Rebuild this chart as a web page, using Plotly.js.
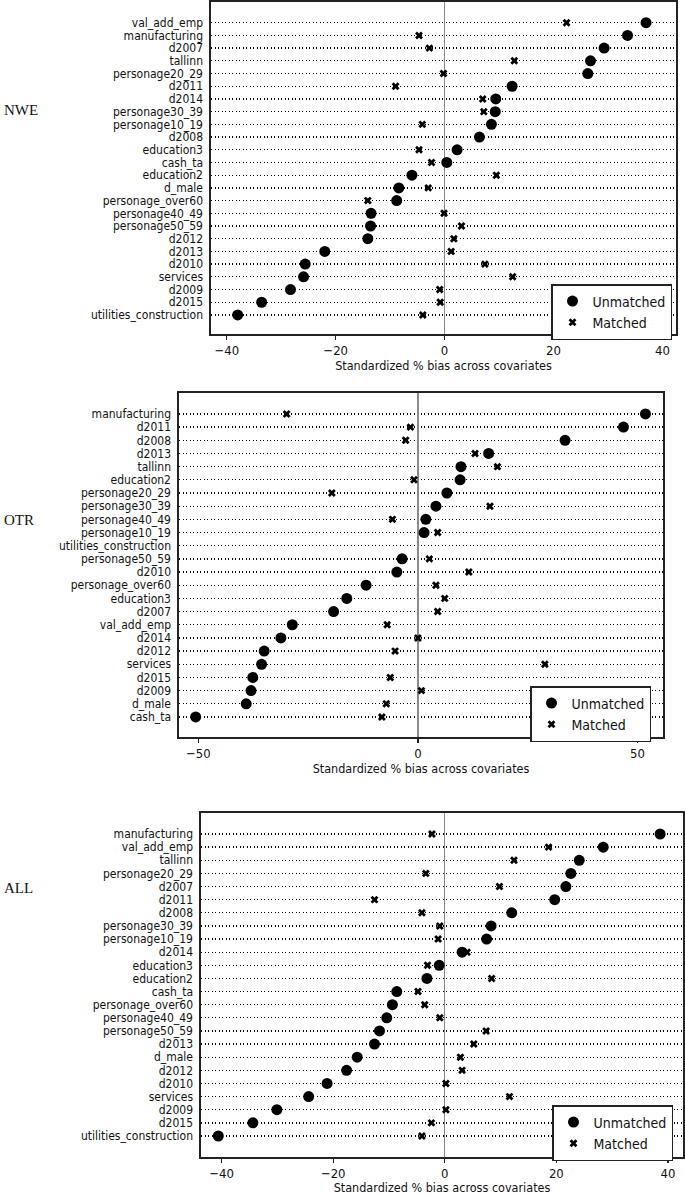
<!DOCTYPE html>
<html>
<head>
<meta charset="utf-8">
<script src="https://cdn.plot.ly/plotly-3.0.1.min.js"></script>
<style>html,body{margin:0;padding:0;background:#fff;}#chart{width:685px;height:1195px;}</style>
</head>
<body>
<div id="chart"></div>
<script>
// ---- NWE panel (top to bottom) ----
const nweVars = ["val_add_emp","manufacturing","d2007","tallinn","personage20_29","d2011","d2014","personage30_39","personage10_19","d2008","education3","cash_ta","education2","d_male","personage_over60","personage40_49","personage50_59","d2012","d2013","d2010","services","d2009","d2015","utilities_construction"];
const nweUnmatched = [37.0,33.6,29.3,26.8,26.3,12.4,9.4,9.3,8.6,6.4,2.3,0.4,-6.0,-8.4,-8.8,-13.5,-13.6,-14.1,-22.0,-25.6,-25.9,-28.3,-33.6,-38.0];
const nweMatched   = [22.4,-4.7,-2.8,12.8,-0.2,-9.0,7.0,7.2,-4.1,6.3,-4.7,-2.4,9.5,-3.0,-14.1,-0.1,3.1,1.7,1.2,7.4,12.5,-0.9,-0.8,-4.0];

// ---- OTR panel ----
const otrVars = ["manufacturing","d2011","d2008","d2013","tallinn","education2","personage20_29","personage30_39","personage40_49","personage10_19","utilities_construction","personage50_59","d2010","personage_over60","education3","d2007","val_add_emp","d2014","d2012","services","d2015","d2009","d_male","cash_ta"];
const otrUnmatched = [51.8,46.8,33.5,16.1,9.8,9.6,6.6,4.1,1.8,1.4,null,-3.6,-4.8,-11.8,-16.2,-19.2,-28.6,-31.2,-35.0,-35.6,-37.6,-38.0,-39.1,-50.6];
const otrMatched   = [-29.9,-1.7,-2.8,13.0,18.1,-0.9,-19.6,16.4,-5.8,4.5,null,2.6,11.6,4.1,6.1,4.5,-7.0,0.0,-5.2,28.9,-6.3,0.8,-7.2,-8.2];

// ---- ALL panel ----
const allVars = ["manufacturing","val_add_emp","tallinn","personage20_29","d2007","d2011","d2008","personage30_39","personage10_19","d2014","education3","education2","cash_ta","personage_over60","personage40_49","personage50_59","d2013","d_male","d2012","d2010","services","d2009","d2015","utilities_construction"];
const allUnmatched = [38.6,28.4,24.1,22.6,21.7,19.7,12.0,8.3,7.5,3.1,-1.0,-3.2,-8.6,-9.4,-10.4,-11.7,-12.6,-15.7,-17.6,-21.1,-24.4,-30.1,-34.4,-40.6];
const allMatched   = [-2.3,18.6,12.4,-3.4,9.8,-12.6,-4.1,-0.9,-1.2,4.0,-3.1,8.4,-4.8,-3.6,-0.9,7.4,5.2,2.8,3.1,0.2,11.6,0.2,-2.4,-4.1];

const panelNames = ["NWE","OTR","ALL"];
const xTitle = "Standardized % bias across covariates";
const seriesNames = ["Unmatched","Matched"];

const W = 685, H = 1195;
const NARROW = '"Liberation Sans Narrow", "Arial Narrow", "DejaVu Sans Condensed", Arial, sans-serif';
const SERIF = '"Liberation Serif", "Times New Roman", serif';

// panel geometry in pixels
const panels = [
  {vars: nweVars, u: nweUnmatched, m: nweMatched, left: 211, right: 676, top: 2, bottom: 334, xr: [-42.9, 42.5], dt: 20, rng: [-1.5, 24.63], lg: {x: 551, y: 284}, labelY: 110},
  {vars: otrVars, u: otrUnmatched, m: otrMatched, left: 179, right: 663, top: 393, bottom: 737, xr: [-54.4, 55.8], dt: 50, rng: [-1.52, 24.59], lg: {x: 530, y: 686}, labelY: 520},
  {vars: allVars, u: allUnmatched, m: allMatched, left: 201, right: 683, top: 813, bottom: 1157, xr: [-43.7, 42.7], dt: 20, rng: [-1.6, 24.6], lg: {x: 552, y: 1105}, labelY: 888}
];

const data = [];
const layout = {
  width: W, height: H,
  margin: {l: 0, r: 0, t: 0, b: 0},
  paper_bgcolor: "#ffffff", plot_bgcolor: "#ffffff",
  showlegend: true,
  annotations: []
};

panels.forEach((p, i) => {
  const k = i === 0 ? "" : String(i + 1);
  const xa = "x" + k, ya = "y" + k;
  const lgName = i === 0 ? "legend" : "legend" + (i + 1);
  data.push({
    type: "scatter", mode: "markers", name: seriesNames[0],
    x: p.u, y: p.vars, xaxis: xa, yaxis: ya, legend: lgName,
    marker: {symbol: "circle", size: 11, color: "#000"},
    cliponaxis: false
  });
  data.push({
    type: "scatter", mode: "markers", name: seriesNames[1],
    x: p.m, y: p.vars, xaxis: xa, yaxis: ya, legend: lgName,
    marker: {symbol: "x", size: 7, color: "#000", line: {width: 0}},
    cliponaxis: false
  });
  layout["xaxis" + k] = {
    domain: [p.left / W, p.right / W],
    anchor: ya,
    range: p.xr,
    dtick: p.dt, tick0: 0,
    showgrid: false,
    zeroline: true, zerolinecolor: "#8a8a8a", zerolinewidth: 1.2,
    showline: true, mirror: true, linecolor: "#222", linewidth: 1.6,
    ticks: "outside", ticklen: 4, tickwidth: 1.2, tickcolor: "#222",
    tickfont: {family: NARROW, size: 13, color: "#111"},
    title: {text: xTitle, font: {family: NARROW, size: 12.5, color: "#111"}, standoff: 1}
  };
  layout["yaxis" + k] = {
    domain: [1 - p.bottom / H, 1 - p.top / H],
    anchor: xa,
    type: "category",
    categoryorder: "array",
    categoryarray: p.vars.slice().reverse(),
    tickmode: "array",
    tickvals: p.vars,
    ticktext: p.vars,
    range: p.rng,
    showgrid: true, gridcolor: "#000", gridwidth: 1.3, griddash: "1.3px,2.2px",
    zeroline: false,
    showline: true, mirror: true, linecolor: "#222", linewidth: 1.6,
    ticks: "", ticklabelstandoff: 4,
    tickfont: {family: NARROW, size: 12, color: "#111"}
  };
  layout[lgName] = {
    x: p.lg.x / W, y: 1 - p.lg.y / H, xanchor: "left", yanchor: "top",
    bgcolor: "#fff", bordercolor: "#222", borderwidth: 1.5,
    font: {family: NARROW, size: 14, color: "#111"},
    itemwidth: 30, tracegroupgap: 0
  };
  layout.annotations.push({
    text: panelNames[i], xref: "paper", yref: "paper",
    x: 2 / W, y: 1 - p.labelY / H, xanchor: "left", yanchor: "middle",
    showarrow: false, font: {family: SERIF, size: 15, color: "#111"}
  });
});

Plotly.newPlot("chart", data, layout, {displayModeBar: false, staticPlot: true});
</script>
</body>
</html>
